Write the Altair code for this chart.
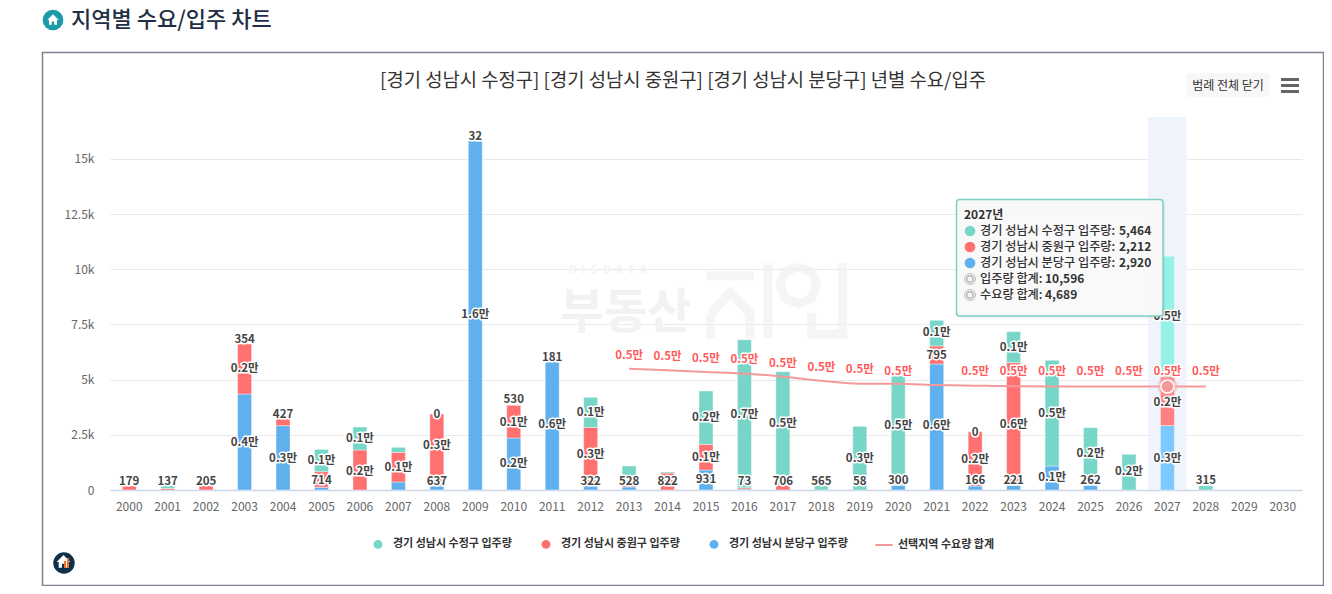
import altair as alt
import pandas as pd

FONT = "Noto Sans CJK KR"
PX0, PY0 = 110, 117  # page position of the plot area's corner

years = [str(y) for y in range(2000, 2031)]
blue = [0, 0, 0, 4350, 2915, 120, 0, 362, 181, 15815, 2356, 5800, 211, 136, 0, 906, 40, 0, 0, 0, 211, 5709, 181, 211, 1087, 211, 0, 2920, 0, 0, 0]
red = [179, 70, 205, 2265, 302, 710, 1812, 1345, 3263, 0, 1480, 0, 2628, 90, 770, 1164, 60, 226, 0, 0, 0, 816, 2462, 5559, 0, 0, 0, 2212, 0, 0, 0]
green = [0, 137, 0, 0, 0, 1010, 1043, 226, 0, 0, 0, 0, 1360, 861, 45, 2416, 6710, 5136, 211, 2885, 4955, 1164, 0, 1404, 4788, 2613, 1616, 5464, 195, 0, 0]

demand_years = [str(y) for y in range(2013, 2029)]
demand = [5498, 5423, 5347, 5272, 5136, 4955, 4818, 4818, 4758, 4727, 4700, 4695, 4692, 4690, 4689, 4689]

demand_label_years = ["2013", "2014", "2015", "2016", "2017", "2018", "2019", "2020", "2022", "2023", "2024", "2025", "2026", "2027", "2028"]
demand_label_pos = [6148, 6072, 5981, 5936, 5770, 5589, 5513, 5423, 5392, 5392, 5392, 5392, 5392, 5392, 5392]

label_years = ["2000", "2001", "2002", "2003", "2003", "2003", "2004", "2004", "2005", "2005", "2006", "2006", "2007",
               "2008", "2008", "2008", "2009", "2009", "2010", "2010", "2010", "2011", "2011", "2012", "2012", "2012",
               "2013", "2014", "2015", "2015", "2015", "2016", "2016", "2017", "2017", "2018", "2019", "2019", "2020", "2020",
               "2021", "2021", "2021", "2022", "2022", "2022", "2023", "2023", "2023", "2024", "2024", "2025", "2025", "2026",
               "2027", "2027", "2027", "2028"]
label_texts = ["179", "137", "205", "354", "0.2만", "0.4만", "427", "0.3만", "714", "0.1만", "0.2만", "0.1만", "0.1만",
               "637", "0.3만", "0", "1.6만", "32", "0.2만", "0.1만", "530", "0.6만", "181", "322", "0.3만", "0.1만",
               "528", "822", "931", "0.1만", "0.2만", "73", "0.7만", "706", "0.5만", "565", "58", "0.3만", "300", "0.5만",
               "0.6만", "795", "0.1만", "166", "0.2만", "0", "221", "0.6만", "0.1만", "0.1만", "0.5만", "262", "0.2만", "0.2만",
               "0.3만", "0.2만", "0.5만", "315"]
label_pos = [438, 438, 438, 6842, 5558, 2190, 3444, 1465, 483, 1360, 906, 2386, 1057,
             423, 2039, 3444, 8005, 16070, 1239, 3081, 4138, 3005, 6071, 453, 1646, 3579,
             453, 453, 513, 1510, 3322, 453, 3458, 453, 3050, 453, 453, 1465, 483, 2975,
             2975, 6117, 7159, 483, 1435, 2673, 483, 3005, 6509, 604, 3504, 483, 1691, 861,
             1465, 4000, 7885, 483]

y_ticks = [0, 2500, 5000, 7500, 10000, 12500, 15000]
S_GREEN, S_RED, S_BLUE = "경기 성남시 수정구 입주량", "경기 성남시 중원구 입주량", "경기 성남시 분당구 입주량"
S_LINE = "선택지역 수요량 합계"

rows = []
for i, y in enumerate(years):
    rows.append({"year": y, "series": S_BLUE, "ord": 0, "value": blue[i]})
    rows.append({"year": y, "series": S_RED, "ord": 1, "value": red[i]})
    rows.append({"year": y, "series": S_GREEN, "ord": 2, "value": green[i]})
bars_df = pd.DataFrame(rows)
demand_df = pd.DataFrame({"year": demand_years, "value": demand, "series": S_LINE})
labels_df = pd.DataFrame({"year": label_years, "text": label_texts, "pos": label_pos})
demand_labels_df = pd.DataFrame({"year": demand_label_years, "pos": demand_label_pos, "text": "0.5만"})
one = pd.DataFrame({"d": [0]})

xs = alt.Scale(type="band", domain=years, paddingInner=0, paddingOuter=0)
ys = alt.Scale(domain=[0, 16900], nice=False)
X = alt.X("year:N", scale=xs, title=None, sort=None)
Xax = alt.X("year:N", scale=xs, title=None, sort=None,
            axis=alt.Axis(labelAngle=0, labelAlign="center", ticks=False, domainColor="#ccd6eb", domainWidth=1.5,
                          labelPadding=16, labelFont=FONT, labelFontSize=12, labelColor="#666666", grid=False))


def px(v):
    return alt.value(v - PX0)


def py(v):
    return alt.value(v - PY0)


def text_at(txt, x, y, **kw):
    opts = dict(font=FONT, align="left", baseline="middle", color="#333333", fontSize=12)
    opts.update(kw)
    return alt.Chart(one).mark_text(text=txt, **opts).encode(x=px(x), y=py(y))


def box(x0, x1, y0, y1, **kw):
    return alt.Chart(one).mark_rect(**kw).encode(x=px(x0), x2=px(x1), y=py(y0), y2=py(y1))


def dot(x, y, size, **kw):
    return alt.Chart(one).mark_point(**kw).encode(x=px(x), y=py(y), size=alt.value(size))


def shape_from_zoom(points_list, ox, oy, cx, cy, half):
    parts = []
    for pts in points_list:
        d = []
        for k, (a, b) in enumerate(pts):
            d.append(("M" if k == 0 else "L") + f"{(a / 3 + ox - cx) / half:.3f} {(b / 3 + oy - cy) / half:.3f}")
        parts.append(" ".join(d))
    return " ".join(parts)


# watermark logo
logo_path = shape_from_zoom([
    [(470, 77), (612, 77)],
    [(482, 190), (541, 128), (600, 190), (600, 265)],
    [(482, 190), (482, 265)],
    [(654, 40), (654, 265)],
    [(878, 40), (878, 265)],
    [(785, 190), (785, 253), (893, 253)],
    [(745, 50), (785, 65), (800, 105), (785, 145), (745, 160), (705, 145), (690, 105), (705, 65), (745, 50)],
], 550, 250, 780, 310, 80)

house = "M-1 0 L0 -1 L1 0 L0.7 0 L0.7 0.85 L0.22 0.85 L0.22 0.25 L-0.22 0.25 L-0.22 0.85 L-0.7 0.85 L-0.7 0 Z"

axis_y = alt.Axis(values=y_ticks, labelExpr="datum.value == 0 ? '0' : datum.value / 1000 + 'k'", ticks=False, domain=False,
                  grid=True, gridColor="#e9e9e9", labelPadding=16, labelFont=FONT, labelFontSize=12, labelColor="#666666")

band = alt.Chart(pd.DataFrame({"year": ["2027"]})).mark_bar(size=38.4, color="#eff3fc").encode(
    x=X, y=alt.value(0), y2=alt.value(373))

watermark = [
    text_at("\u00a0\u00a0".join("BIGDATA"), 569, 271, fontSize=11, color="#f4f4f4", fontWeight="bold"),
    text_at("부동산", 560, 314, fontSize=47.5, color="#f2f2f2", fontWeight="bold"),
    alt.Chart(one).mark_point(shape=logo_path, filled=False, stroke="#f2f2f2", strokeWidth=9).encode(
        x=px(780), y=py(310), size=alt.value(160 * 160)),
]

bars = alt.Chart(bars_df).transform_filter("datum.value > 0").mark_bar(size=14, stroke="#ffffff", strokeWidth=0.4).encode(
    x=Xax,
    y=alt.Y("value:Q", stack="zero", scale=ys, title=None, axis=axis_y),
    order=alt.Order("ord:Q", sort="ascending"),
    color=alt.Color(
        "series:N", title=None,
        scale=alt.Scale(domain=[S_GREEN, S_RED, S_BLUE], range=["#78d6c8", "#ff7070", "#60b0ee"]),
        legend=alt.Legend(orient="none", legendX=262, legendY=421, direction="horizontal", symbolType="circle",
                          symbolSize=110, labelFont=FONT, labelFontSize=11, labelFontWeight="bold",
                          labelColor="#333333", columnPadding=25, labelOffset=9, padding=0, columns=3),
        condition=[
            {"test": f"datum.year == '2027' && datum.series == '{S_GREEN}'", "value": "#96f2e6"},
            {"test": f"datum.year == '2027' && datum.series == '{S_RED}'", "value": "#ff8080"},
            {"test": f"datum.year == '2027' && datum.series == '{S_BLUE}'", "value": "#7cc8ff"},
        ],
    ),
)

line = alt.Chart(demand_df).mark_line(interpolate="monotone", strokeWidth=2).encode(
    x=X,
    y=alt.Y("value:Q", scale=ys, title=None),
    stroke=alt.Stroke("series:N", title=None,
                      scale=alt.Scale(domain=[S_LINE], range=["#f59a9a"]),
                      legend=alt.Legend(orient="none", legendX=764, legendY=418, symbolType="stroke", symbolSize=300,
                                        symbolStrokeWidth=2, labelFont=FONT, labelFontSize=11, labelFontWeight="bold",
                                        labelColor="#333333", labelOffset=4, padding=0)),
)


def halo_text(df, color):
    enc = dict(x=X, y=alt.Y("pos:Q", scale=ys, title=None), text="text:N")
    base = dict(font=FONT, fontSize=11.5, fontWeight="bold", dy=1.5)
    return [
        alt.Chart(df).mark_text(stroke="#ffffff", strokeWidth=3, strokeJoin="round", color="#ffffff", **base).encode(**enc),
        alt.Chart(df).mark_text(color=color, **base).encode(**enc),
    ]


marker = [
    alt.Chart(demand_df).transform_filter("datum.year == '2027'").mark_point(
        filled=True, fill="#f7a8a8", opacity=0.45, size=420).encode(x=X, y=alt.Y("value:Q", scale=ys, title=None)),
    alt.Chart(demand_df).transform_filter("datum.year == '2027'").mark_point(
        filled=True, fill="#f29a9a", stroke="#ffffff", strokeWidth=1.5, opacity=1, size=170).encode(
        x=X, y=alt.Y("value:Q", scale=ys, title=None)),
]

tip = [
    box(958, 1165, 201, 318, fill="#000000", opacity=0.06, cornerRadius=3),
    box(956.5, 1163, 199.5, 316, fill="#f9f9f9", opacity=0.96, cornerRadius=3),
    box(956.5, 1163, 199.5, 316, fill="#ffffff", fillOpacity=0, stroke="#7fcfc4", strokeWidth=1.5, cornerRadius=3),
    text_at("2027년", 964, 215, fontWeight="bold", fontSize=12),
]
tip_rows = [(S_GREEN + ":", "5,464", 231, "#78d6c8", 1119), (S_RED + ":", "2,212", 247, "#ff7070", 1119),
            (S_BLUE + ":", "2,920", 263, "#60b0ee", 1119)]
for name, val, yy, col, vx in tip_rows:
    tip += [dot(970, yy, 115, filled=True, fill=col, opacity=1),
            text_at(name, 980, yy, fontSize=12.2, fontWeight=500), text_at(val, vx, yy, fontWeight="bold")]
for name, val, yy in [("입주량 합계:", "10,596", 279), ("수요량 합계:", "4,689", 295)]:
    tip += [dot(970, yy, 115, filled=False, stroke="#999999", strokeWidth=1),
            dot(970, yy, 40, filled=False, stroke="#999999", strokeWidth=1.5),
            text_at(name, 980, yy, fontSize=12.2, fontWeight=500), text_at(val, 1045, yy, fontWeight="bold")]

deco = [
    box(42.5, 1323.5, 52.5, 585.5, fill="#ffffff", fillOpacity=0, stroke="#7b8494", strokeWidth=1.5),
    text_at("[경기 성남시 수정구] [경기 성남시 중원구] [경기 성남시 분당구] 년별 수요/입주", 683, 81,
            align="center", fontSize=18.8),
    dot(53, 20, 430, filled=True, fill="#1b9aaa", opacity=1),
    alt.Chart(one).mark_point(shape=house, filled=True, fill="#ffffff", opacity=1).encode(
        x=px(53), y=py(20), size=alt.value(130)),
    text_at("지역별 수요/입주 차트", 71, 20, fontSize=22, color="#1f3044", fontWeight=500),
    box(1186, 1269, 73, 97, fill="#f7f7f7", cornerRadius=3),
    text_at("범례 전체 닫기", 1228, 86, align="center", fontSize=12, color="#333333"),
    box(1281, 1299, 78, 81, fill="#666666"),
    box(1281, 1299, 84, 87, fill="#666666"),
    box(1281, 1299, 90, 93, fill="#666666"),
    dot(64, 563, 460, filled=True, fill="#10304a", opacity=1),
    alt.Chart(one).mark_point(shape=house, filled=True, fill="#ffffff", opacity=1).encode(
        x=px(63.5), y=py(562), size=alt.value(190)),
    box(64, 66, 561, 568, fill="#f0702c"),
    box(67, 69, 558, 568, fill="#f0702c"),
]

layers = ([band] + watermark + [bars, line]
          + halo_text(labels_df, "#444444")
          + halo_text(demand_labels_df, "#ff5a5a")
          + marker + tip + deco)

chart = alt.layer(*layers).properties(
    width=1192, height=373,
    padding={"left": 102, "top": 109, "right": 22, "bottom": 96},
    autosize=alt.AutoSizeParams(type="none"),
    background="#ffffff",
).configure_view(stroke=None)

chart.save("out.html", embed_options={"renderer": "svg", "actions": False})
